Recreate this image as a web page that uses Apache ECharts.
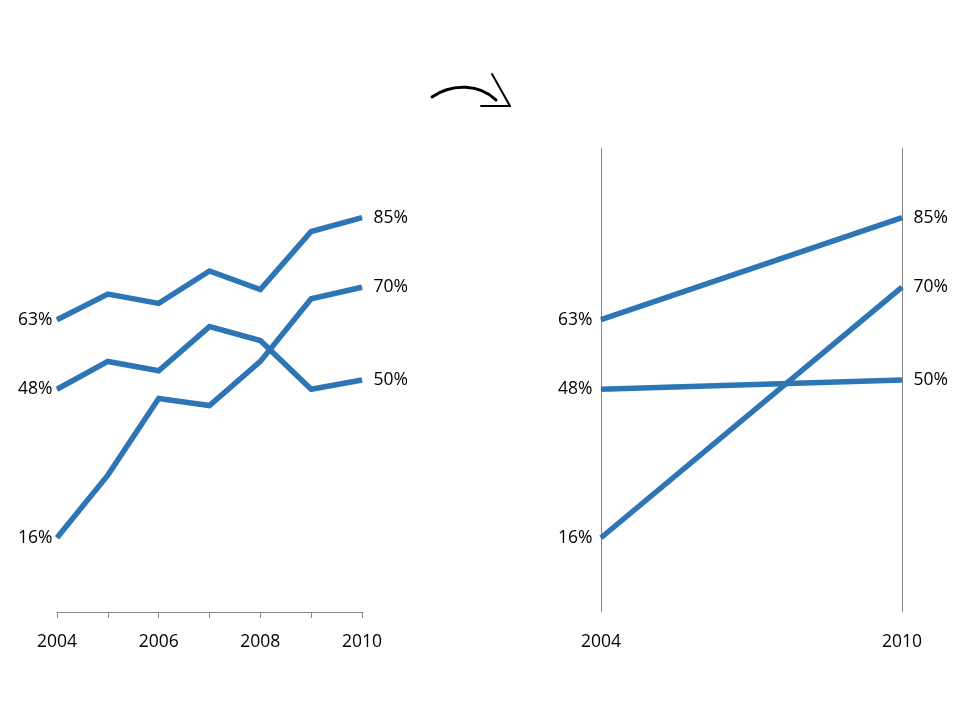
<!DOCTYPE html>
<html><head><meta charset="utf-8">
<script src="https://cdn.jsdelivr.net/npm/echarts@6/dist/echarts.min.js"></script>
<style>html,body{margin:0;padding:0;background:#fff}#c{width:960px;height:720px}</style>
</head><body><div id="c"></div>
<script>
const years = ['2004','2005','2006','2007','2008','2009','2010'];
const yearLabels = ['2004','2006','2008','2010'];
const seriesTop = [63, 68.5, 66.5, 73.5, 69.5, 82, 85];
const seriesMid = [48, 54, 52, 61.5, 58.5, 48, 50];
const seriesLow = [16, 29.5, 46, 44.5, 54, 67.5, 70];
const slopeYears = ['2004','2010'];

const COLOR = '#2E75B6';
const FONT = 'Open Sans';
const AXIS = '#868686';
const FS = 17.5;

function labelled(arr, leftDist, rightDist) {
  return arr.map((v, i) => {
    if (i === 0) return {value: v, label: {show: true, position: 'left', distance: leftDist}};
    if (i === arr.length - 1) return {value: v, label: {show: true, position: 'right', distance: rightDist}};
    return {value: v};
  });
}
const slope = arr => [arr[0], arr[arr.length - 1]];

const labelStyle = {
  show: false, color: '#000', fontFamily: FONT, fontSize: FS,
  formatter: p => Math.round(p.value) + '%'
};

function mkSeries(arr, xi, ld, rd) {
  return {
    type: 'line', xAxisIndex: xi, yAxisIndex: xi,
    data: labelled(arr, ld, rd),
    showSymbol: true, symbol: 'circle', symbolSize: 1, silent: true,
    itemStyle: {color: COLOR},
    lineStyle: {color: COLOR, width: 5.5, cap: 'butt', join: 'miter'},
    label: labelStyle,
    labelLayout: {hideOverlap: false}
  };
}

const chart = echarts.init(document.getElementById('c'), null, {renderer: 'canvas'});
chart.setOption({
  animation: false,
  backgroundColor: '#fff',
  grid: [
    {left: 57, right: 598, top: 148, bottom: 108},
    {left: 601, right: 58, top: 148, bottom: 108}
  ],
  xAxis: [
    {
      gridIndex: 0, type: 'category', data: years, boundaryGap: false,
      axisLine: {show: true, lineStyle: {color: AXIS, width: 1}},
      axisTick: {show: true, interval: 0, length: 6, lineStyle: {color: AXIS}},
      axisLabel: {
        interval: 0, margin: 21, color: '#000', fontFamily: FONT, fontSize: FS,
        formatter: v => yearLabels.indexOf(v) >= 0 ? v : ''
      },
      splitLine: {show: false}
    },
    {
      gridIndex: 1, type: 'category', data: slopeYears, boundaryGap: false,
      axisLine: {show: false}, axisTick: {show: false},
      axisLabel: {interval: 0, margin: 21, color: '#000', fontFamily: FONT, fontSize: FS},
      splitLine: {show: true, interval: 0, lineStyle: {color: AXIS, width: 1}}
    }
  ],
  yAxis: [
    {gridIndex: 0, type: 'value', min: 0, max: 100, show: false},
    {gridIndex: 1, type: 'value', min: 0, max: 100, show: false}
  ],
  series: [
    mkSeries(seriesTop, 0, 4, 11),
    mkSeries(seriesMid, 0, 4, 11),
    mkSeries(seriesLow, 0, 4, 11),
    mkSeries(slope(seriesTop), 1, 8, 11),
    mkSeries(slope(seriesMid), 1, 8, 11),
    mkSeries(slope(seriesLow), 1, 8, 11)
  ],
  graphic: [
    {
      type: 'bezierCurve', silent: true,
      shape: {x1: 432, y1: 97, x2: 496, y2: 100, cpx1: 452, cpy1: 83, cpx2: 480, cpy2: 84},
      style: {stroke: '#000', lineWidth: 3, fill: null, lineCap: 'round'}
    },
    {
      type: 'line', silent: true,
      shape: {x1: 492, y1: 74, x2: 510, y2: 106},
      style: {stroke: '#000', lineWidth: 2, lineCap: 'round'}
    },
    {
      type: 'line', silent: true,
      shape: {x1: 481, y1: 106, x2: 510, y2: 106},
      style: {stroke: '#000', lineWidth: 2, lineCap: 'round'}
    }
  ]
});
</script>
</body></html>
